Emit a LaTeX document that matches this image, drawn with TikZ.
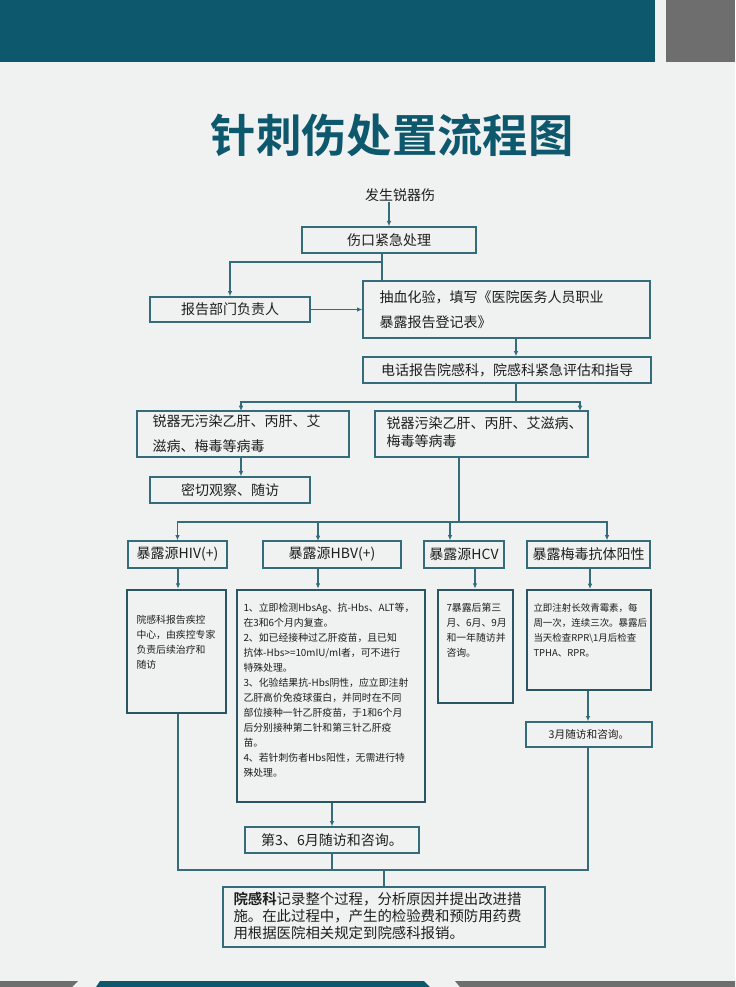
\documentclass[tikz,border=0pt]{standalone}
\usepackage{fontspec}
\setmainfont{Noto Sans CJK SC}
\newfontfamily\cjkbold{Noto Sans CJK SC Bold}
\usetikzlibrary{arrows.meta,fit,positioning}
\definecolor{bgGrey}{RGB}{240,241,241}
\definecolor{tealDark}{RGB}{14,88,110}
\definecolor{tealLine}{RGB}{52,108,124}
\definecolor{barGrey}{RGB}{110,110,110}
\definecolor{txtDark}{RGB}{30,30,30}
\tikzset{every picture/.style={line width=0.75pt}}
\tikzset{
  bx/.style={draw=tealLine,line width=1pt,inner sep=0pt},
  lbl/.style={inner sep=0pt,font=\fontsize{10.5pt}{13pt}\selectfont,text=txtDark},
  bxthick/.style={draw=tealLine!80!black,line width=2pt,inner sep=0pt},
  small/.style={anchor=north west,inner sep=0pt,align=left,font=\fontsize{7.4pt}{11.2pt}\selectfont,text=txtDark},
  link/.style={draw=tealLine,line width=1.2pt},
  arr/.style={link,-{Latex[length=4pt,width=3.5pt]}}
}
\begin{document}
\begin{tikzpicture}[x=0.75pt,y=0.75pt,yscale=-1,xscale=1]
\useasboundingbox (0,0) rectangle (735,987);
% background and bars
\fill[bgGrey] (0,0) rectangle (735,987);
\fill[tealDark] (0,0) rectangle (655,62);
\fill[barGrey] (666,0) rectangle (735,62);
\fill[barGrey] (0,981) -- (78,981) -- (72,987) -- (0,987) -- cycle;
\fill[tealDark] (100,981) -- (424,981) -- (430,987) -- (96,987) -- cycle;
\fill[barGrey] (455,981) -- (735,981) -- (735,987) -- (460,987) -- cycle;

% title
\node[font=\cjkbold\fontsize{34pt}{40pt}\selectfont,text=tealDark] (title) at (392,135) {针刺伤处置流程图};

% top chain
\node[lbl] (start) at (400,195) {发生锐器伤};
\node[bx,fit={(302,227) (476,253)},label={[lbl]center:伤口紧急处理}] (cut) {};
\node[bx,fit={(150,297) (310,322)},label={[lbl]center:报告部门负责人}] (dept) {};
\node[bx,fit={(363,281) (650,338)}] (blood) {};
\node[anchor=west,align=left,inner sep=0pt,font=\fontsize{10.5pt}{19pt}\selectfont,text=txtDark] (bloodtxt) at (379,310) {抽血化验，填写《医院医务人员职业\\暴露报告登记表》};
\node[bx,fit={(363,357) (651,383)},label={[lbl]center:电话报告院感科，院感科紧急评估和指导}] (phone) {};
\node[bx,fit={(137,411) (349,457)}] (clean) {};
\node[anchor=west,align=left,inner sep=0pt,font=\fontsize{10.5pt}{19pt}\selectfont,text=txtDark] (cleantxt) at (152,434) {锐器无污染乙肝、丙肝、艾\\滋病、梅毒等病毒};
\node[bx,fit={(375,411) (588,457)}] (dirty) {};
\node[anchor=west,align=left,inner sep=0pt,font=\fontsize{10.5pt}{13.5pt}\selectfont,text=txtDark] (dirtytxt) at (386,432) {锐器污染乙肝、丙肝、艾滋病、\\梅毒等病毒};
\node[bx,fit={(150,477) (310,503)},label={[lbl]center:密切观察、随访}] (watch) {};

% source row
\node[bx,fit={(128,541) (227,568)},label={[lbl]center:暴露源HIV(+)}] (hiv) {};
\node[bx,fit={(263,541) (401,568)},label={[lbl]center:暴露源HBV(+)}] (hbv) {};
\node[bx,fit={(424,541) (504,568)},label={[lbl]center:暴露源HCV}] (hcv) {};
\node[bx,fit={(527,541) (650,568)},label={[lbl]center:暴露梅毒抗体阳性}] (syph) {};

% detail boxes
\node[bxthick,fit={(127,590) (226,713)}] (hivd) {};
\node[small,text width=84pt] (hivtxt) at (136,615) {院感科报告疾控\\中心，由疾控专家\\负责后续治疗和\\随访};
\node[bxthick,fit={(237,590) (425,802)}] (hbvd) {};
\node[small,text width=138pt] (hbvtxt) at (243,603) {1、立即检测HbsAg、抗-Hbs、ALT等，\\在3和6个月内复查。\\2、如已经接种过乙肝疫苗，且已知\\抗体-Hbs>=10mIU/ml者，可不进行\\特殊处理。\\3、化验结果抗-Hbs阴性，应立即注射\\乙肝高价免疫球蛋白，并同时在不同\\部位接种一针乙肝疫苗，于1和6个月\\后分别接种第二针和第三针乙肝疫\\苗。\\4、若针刺伤者Hbs阳性，无需进行特\\殊处理。};
\node[bxthick,fit={(438,590) (513,703)}] (hcvd) {};
\node[small,text width=54pt] (hcvtxt) at (446,603) {7暴露后第三\\月、6月、9月\\和一年随访并\\咨询。};
\node[bxthick,line width=1.5pt,fit={(527,590) (651,690)}] (syphd) {};
\node[small,text width=90pt,font=\fontsize{7.1pt}{11.2pt}\selectfont] (syphtxt) at (533,603) {立即注射长效青霉素，每\\周一次，连续三次。暴露后\\当天检查RPR\textbackslash1月后检查\\TPHA、RPR。};
\node[bx,fit={(526,722) (652,747)},label={[lbl,font=\fontsize{8pt}{10pt}\selectfont]center:3月随访和咨询。}] (syph3) {};
\node[bx,fit={(245,827) (419,853)},label={[lbl]center:第3、6月随访和咨询。}] (hbv36) {};

% final box
\node[bx,fit={(223,887) (545,947)}] (final) {};
\node[anchor=north west,align=left,inner sep=0pt,font=\fontsize{10.8pt}{12.5pt}\selectfont,text=txtDark] (finaltxt) at (233,892) {{\cjkbold 院感科}记录整个过程，分析原因并提出改进措\\施。在此过程中，产生的检验费和预防用药费\\用根据医院相关规定到院感科报销。};

% junction coordinates
\coordinate (j1) at (382,262);
\coordinate (j2) at (516,402);
\coordinate (j3) at (459,522);
\coordinate (j4) at (384,870);

% connectors
\draw[arr] (start.south -| cut.north) -- (cut.north);
\draw[link] (cut.south -| j1) -- (j1) -- (j1 |- blood.north);
\draw[arr] (j1) -| (dept.north);
\draw[arr] (dept.east) -- (blood.west |- dept.east);
\draw[arr] (blood.south -| j2) -- (phone.north -| j2);
\draw[link] (phone.south -| j2) -- (j2);
\draw[arr] (j2) -| (241,411);
\draw[arr] (j2) -| (580,411);
\draw[arr] (clean.south -| 241,0) -- (watch.north -| 241,0);
\draw[link] (dirty.south -| j3) -- (j3);
\draw[arr] (j3) -| (hiv.north);
\draw[arr] (j3) -| (318,541);
\draw[arr] (j3) -| (hcv.north -| 450,0);
\draw[arr] (j3) -| (syph.north -| 607,0);
\draw[arr] (hiv.south -| 178,0) -- (hivd.north -| 178,0);
\draw[arr] (hbv.south -| 318,0) -- (hbvd.north -| 318,0);
\draw[arr] (hcv.south -| 475,0) -- (hcvd.north -| 475,0);
\draw[arr] (syph.south -| 590,0) -- (syphd.north -| 590,0);
\draw[arr] (syphd.south -| 588,0) -- (syph3.north -| 588,0);
\draw[arr] (hbvd.south -| 332,0) -- (hbv36.north -| 332,0);
\draw[link] (hivd.south -| 178,0) |- (j4) -| (syph3.south -| 588,0);
\draw[link] (hbv36.south -| 332,0) -- (332,870);
\draw[link] (j4) -- (final.north -| j4);
\end{tikzpicture}
\end{document}
